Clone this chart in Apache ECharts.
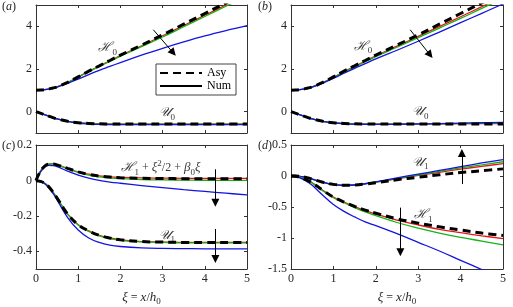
<!DOCTYPE html>
<html><head><meta charset="utf-8">
<script src="https://cdn.jsdelivr.net/npm/echarts@6/dist/echarts.min.js"></script>
<style>html,body{margin:0;padding:0;background:#fff}#c{width:513px;height:307px}</style>
</head><body><div id="c"></div>
<script>
// common abscissa xi = x/h0
const XI = [0,0.1,0.2,0.3,0.4,0.5,0.75,1,1.25,1.5,1.75,2,2.5,3,3.5,4,4.5,5];

// panel (a)
const A_H0_ASY = [1.00,1.01,1.03,1.06,1.11,1.16,1.37,1.63,1.90,2.15,2.40,2.65,3.12,3.60,4.10,4.60,5.10,5.60];
const A_H0_RED = [1.00,1.01,1.03,1.06,1.11,1.16,1.37,1.63,1.89,2.14,2.38,2.63,3.09,3.56,4.04,4.52,5.00,5.48];
const A_H0_GRN = [1.00,1.01,1.03,1.06,1.11,1.16,1.36,1.62,1.87,2.12,2.36,2.60,3.05,3.50,3.98,4.46,4.94,5.42];
const A_H0_BLU = [1.00,1.01,1.03,1.06,1.10,1.15,1.33,1.53,1.74,1.94,2.12,2.30,2.65,2.97,3.27,3.55,3.80,4.03];
const A_U0_ASY = [0,-0.07,-0.14,-0.21,-0.28,-0.34,-0.45,-0.52,-0.55,-0.57,-0.575,-0.58,-0.58,-0.58,-0.58,-0.58,-0.58,-0.58];
const A_U0_RED = [0,-0.07,-0.14,-0.21,-0.28,-0.34,-0.45,-0.52,-0.55,-0.57,-0.575,-0.58,-0.58,-0.58,-0.58,-0.58,-0.58,-0.58];
const A_U0_GRN = [0,-0.07,-0.14,-0.21,-0.28,-0.34,-0.45,-0.52,-0.56,-0.575,-0.585,-0.59,-0.59,-0.59,-0.59,-0.59,-0.59,-0.59];
const A_U0_BLU = [0,-0.07,-0.14,-0.21,-0.28,-0.34,-0.46,-0.54,-0.58,-0.60,-0.605,-0.61,-0.61,-0.61,-0.61,-0.61,-0.61,-0.61];

// panel (b)
const B_H0_ASY = [1.00,1.01,1.03,1.06,1.11,1.16,1.37,1.63,1.90,2.15,2.40,2.65,3.12,3.60,4.10,4.60,5.10,5.60];
const B_H0_RED = [1.00,1.01,1.03,1.06,1.11,1.16,1.36,1.61,1.87,2.12,2.37,2.62,3.07,3.53,3.99,4.45,4.92,5.40];
const B_H0_GRN = [1.00,1.01,1.03,1.06,1.11,1.16,1.36,1.60,1.85,2.10,2.34,2.58,3.02,3.47,3.92,4.37,4.84,5.30];
const B_H0_BLU = [1.00,1.01,1.03,1.06,1.10,1.15,1.34,1.56,1.80,2.03,2.25,2.47,2.88,3.30,3.73,4.17,4.61,5.05];
const B_U0_ASY = [0,-0.07,-0.14,-0.21,-0.28,-0.34,-0.45,-0.52,-0.55,-0.57,-0.575,-0.58,-0.58,-0.58,-0.58,-0.58,-0.58,-0.58];
const B_U0_RED = [0,-0.07,-0.14,-0.21,-0.28,-0.34,-0.45,-0.52,-0.55,-0.57,-0.575,-0.58,-0.58,-0.575,-0.57,-0.565,-0.56,-0.555];
const B_U0_GRN = [0,-0.07,-0.14,-0.21,-0.28,-0.34,-0.45,-0.52,-0.555,-0.575,-0.58,-0.585,-0.585,-0.58,-0.57,-0.56,-0.55,-0.54];
const B_U0_BLU = [0,-0.07,-0.14,-0.21,-0.28,-0.34,-0.46,-0.53,-0.57,-0.59,-0.60,-0.60,-0.59,-0.575,-0.56,-0.54,-0.52,-0.50];

// panel (c)
const C_H1_ASY = [0,0.05,0.08,0.092,0.093,0.088,0.068,0.048,0.034,0.025,0.019,0.015,0.012,0.011,0.010,0.010,0.010,0.010];
const C_H1_RED = [0,0.05,0.08,0.092,0.093,0.088,0.068,0.048,0.035,0.026,0.020,0.017,0.014,0.013,0.012,0.012,0.012,0.012];
const C_H1_GRN = [0,0.05,0.08,0.092,0.093,0.088,0.066,0.045,0.030,0.020,0.014,0.010,0.005,0.003,0.002,0.001,0.000,0.000];
const C_H1_BLU = [0,0.045,0.075,0.085,0.084,0.078,0.052,0.030,0.013,0.000,-0.009,-0.016,-0.029,-0.041,-0.052,-0.062,-0.072,-0.082];
const C_U1_ASY = [0,-0.005,-0.015,-0.035,-0.065,-0.10,-0.19,-0.25,-0.285,-0.31,-0.325,-0.335,-0.345,-0.348,-0.35,-0.35,-0.35,-0.35];
const C_U1_RED = [0,-0.005,-0.015,-0.035,-0.065,-0.10,-0.19,-0.25,-0.285,-0.31,-0.325,-0.335,-0.345,-0.348,-0.35,-0.35,-0.35,-0.35];
const C_U1_GRN = [0,-0.005,-0.015,-0.036,-0.067,-0.10,-0.19,-0.252,-0.288,-0.313,-0.328,-0.338,-0.347,-0.35,-0.352,-0.352,-0.352,-0.352];
const C_U1_BLU = [0,-0.005,-0.017,-0.040,-0.072,-0.11,-0.21,-0.28,-0.325,-0.35,-0.365,-0.373,-0.381,-0.384,-0.385,-0.386,-0.386,-0.386];

// panel (d)
const D_U1_ASY = [0,0,-0.005,-0.015,-0.03,-0.05,-0.10,-0.135,-0.148,-0.145,-0.13,-0.11,-0.06,-0.02,0.02,0.055,0.085,0.115];
const D_U1_RED = [0,0,-0.005,-0.015,-0.03,-0.05,-0.10,-0.137,-0.15,-0.145,-0.125,-0.10,-0.045,0.01,0.06,0.11,0.155,0.20];
const D_U1_GRN = [0,0,-0.005,-0.015,-0.03,-0.05,-0.10,-0.138,-0.151,-0.145,-0.123,-0.097,-0.04,0.02,0.075,0.13,0.18,0.23];
const D_U1_BLU = [0,0,-0.005,-0.015,-0.03,-0.05,-0.10,-0.14,-0.153,-0.145,-0.125,-0.095,-0.03,0.03,0.09,0.15,0.21,0.265];
const D_H1_ASY = [0,-0.005,-0.02,-0.045,-0.075,-0.11,-0.23,-0.34,-0.42,-0.49,-0.55,-0.60,-0.69,-0.76,-0.82,-0.87,-0.92,-0.96];
const D_H1_RED = [0,-0.005,-0.02,-0.045,-0.075,-0.11,-0.23,-0.34,-0.42,-0.495,-0.56,-0.615,-0.71,-0.79,-0.86,-0.915,-0.965,-1.01];
const D_H1_GRN = [0,-0.005,-0.02,-0.046,-0.077,-0.115,-0.24,-0.35,-0.43,-0.51,-0.58,-0.64,-0.75,-0.84,-0.92,-0.99,-1.05,-1.11];
const D_H1_BLU = [0,-0.005,-0.025,-0.06,-0.10,-0.15,-0.31,-0.46,-0.57,-0.66,-0.74,-0.80,-0.93,-1.07,-1.21,-1.36,-1.51,-1.66];

// y tick values
const A_YTICKS = [0,2,4];
const C_YTICKS = [-0.4,-0.2,0,0.2];
const D_YTICKS = [-1.5,-1,-0.5,0,0.5];

// annotations [x0,y0,x1,y1]
const ARROWS = [
  [0, [2.78,3.84,3.25,2.76]],
  [1, [2.81,3.84,3.28,2.66]],
  [2, [4.25,0.063,4.25,-0.126]],
  [2, [4.25,-0.274,4.25,-0.444]],
  [3, [4.03,-0.13,4.03,0.37]],
  [3, [2.58,-0.51,2.58,-1.23]]
];
const LABELS = [
  [0, 1.70, 3.0, '{s|ℋ}{b|0}'],
  [0, 3.10, -0.05, '{s|𝒰}{b|0}'],
  [1, 1.70, 3.05, '{s|ℋ}{b|0}'],
  [1, 3.05, -0.01, '{s|𝒰}{b|0}'],
  [2, 2.95, 0.07, '{s|ℋ}{b|1}{n| + }{i|ξ}{p|2}{n|/2 + }{i|β}{b|0}{i|ξ}'],
  [2, 3.10, -0.31, '{s|𝒰}{b|1}'],
  [3, 3.05, 0.22, '{s|𝒰}{b|1}'],
  [3, 3.12, -0.63, '{s|ℋ}{b|1}']
];

const RED = '#e8141c', GRN = '#14b414', BLU = '#1414e0';
const FONT = 'Liberation Serif, DejaVu Serif, serif';
const TXT = '#262626';

const grids = [
  {left:36, top:5, width:211, height:128},
  {left:291, top:5, width:212, height:128},
  {left:36, top:145, width:211, height:126},
  {left:291, top:145, width:212, height:126}
];
const yRanges = [[-1,5,A_YTICKS],[-1,5,A_YTICKS],[-0.5,0.2,C_YTICKS],[-1.5,0.5,D_YTICKS]];

const xAxis = [], yAxis = [];
for (let i = 0; i < 4; i++) {
  const bottomRow = i >= 2;
  xAxis.push({
    type:'value', gridIndex:i, min:0, max:5, interval:1, position:'bottom',
    axisLine:{show:true, onZero:false, lineStyle:{color:'#333', width:1}},
    axisTick:{show:true, inside:true, length:3, lineStyle:{color:'#333'}},
    axisLabel:{show:bottomRow, color:TXT, fontFamily:FONT, fontSize:12, margin:4},
    splitLine:{show:false},
    name: bottomRow ? '{i|ξ} = {i|x}/{i|h}{b|0}' : '',
    nameLocation:'middle', nameGap:21,
    nameTextStyle:{color:TXT, fontFamily:FONT, fontSize:12,
      rich:{i:{fontStyle:'italic', fontFamily:FONT, fontSize:13, color:TXT, lineHeight:16, verticalAlign:'middle'},
            b:{fontFamily:FONT, fontSize:9, color:TXT, lineHeight:16, verticalAlign:'bottom'}}}
  });
}
for (let i = 0; i < 4; i++) {
  xAxis.push({
    type:'value', gridIndex:i, min:0, max:5, interval:1, position:'top',
    axisLine:{show:true, onZero:false, lineStyle:{color:'#333', width:1}},
    axisTick:{show:true, inside:true, length:3, lineStyle:{color:'#333'}},
    axisLabel:{show:false}, splitLine:{show:false}
  });
}
for (let i = 0; i < 4; i++) {
  const r = yRanges[i];
  yAxis.push({
    type:'value', gridIndex:i, min:r[0], max:r[1], position:'left',
    axisLine:{show:true, onZero:false, lineStyle:{color:'#333', width:1}},
    axisTick:{show:true, inside:true, length:3, customValues:r[2], lineStyle:{color:'#333'}},
    axisLabel:{show:true, customValues:r[2], color:TXT, fontFamily:FONT, fontSize:12, margin:4,
      formatter: v => String(Math.round(v*10)/10)},
    splitLine:{show:false}
  });
}
for (let i = 0; i < 4; i++) {
  const r = yRanges[i];
  yAxis.push({
    type:'value', gridIndex:i, min:r[0], max:r[1], position:'right',
    axisLine:{show:true, onZero:false, lineStyle:{color:'#333', width:1}},
    axisTick:{show:true, inside:true, length:3, customValues:r[2], lineStyle:{color:'#333'}},
    axisLabel:{show:false}, splitLine:{show:false}
  });
}

const pairs = ys => XI.map((x, k) => [x, ys[k]]);
const series = [];
function addCurve(gi, ys, color, name, dashed) {
  series.push({
    type:'line', name:name, xAxisIndex:gi, yAxisIndex:gi, data:pairs(ys),
    smooth:0.4, showSymbol:false, symbol:'none', clip:true,
    lineStyle: dashed ? {color:'#000', width:3, type:[8,5]} : {color:color, width:1.3},
    itemStyle:{color: dashed ? '#000' : color},
    z: dashed ? 5 : 3, silent:true, animation:false
  });
}
const panels = [
  [[A_H0_RED,A_H0_GRN,A_H0_BLU,A_H0_ASY],[A_U0_RED,A_U0_GRN,A_U0_BLU,A_U0_ASY]],
  [[B_H0_RED,B_H0_GRN,B_H0_BLU,B_H0_ASY],[B_U0_RED,B_U0_GRN,B_U0_BLU,B_U0_ASY]],
  [[C_H1_RED,C_H1_GRN,C_H1_BLU,C_H1_ASY],[C_U1_RED,C_U1_GRN,C_U1_BLU,C_U1_ASY]],
  [[D_U1_RED,D_U1_GRN,D_U1_BLU,D_U1_ASY],[D_H1_RED,D_H1_GRN,D_H1_BLU,D_H1_ASY]]
];
panels.forEach((p, gi) => {
  p.forEach(set => {
    addCurve(gi, set[0], RED, 'r');
    addCurve(gi, set[1], GRN, 'g');
    addCurve(gi, set[2], BLU, 'b');
    addCurve(gi, set[3], '#000', 'Asy', true);
  });
});
// legend-only solid entry
series.push({type:'line', name:'Num', xAxisIndex:0, yAxisIndex:0, data:[], symbol:'none',
  lineStyle:{color:'#000', width:1.3}, itemStyle:{color:'#000'}});

// arrows
for (let gi = 0; gi < 4; gi++) {
  const arr = ARROWS.filter(a => a[0] === gi).map(a => ({coords:[[a[1][0],a[1][1]],[a[1][2],a[1][3]]]}));
  series.push({type:'lines', coordinateSystem:'cartesian2d', xAxisIndex:gi, yAxisIndex:gi,
    data:arr, symbol:['none','triangle'], symbolSize:[6,8], silent:true, z:6,
    lineStyle:{color:'#000', width:1, opacity:1, curveness:0}, itemStyle:{color:'#000'}});
}
// text labels
const richL = {
  s:{fontFamily:'DejaVu Serif, serif', fontStyle:'italic', fontSize:13, color:'#000', lineHeight:18, verticalAlign:'middle'},
  b:{fontFamily:FONT, fontSize:9, color:'#000', lineHeight:18, verticalAlign:'bottom'},
  p:{fontFamily:FONT, fontSize:9, color:'#000', lineHeight:18, verticalAlign:'top'},
  n:{fontFamily:FONT, fontSize:12, color:'#000', lineHeight:18, verticalAlign:'middle'},
  i:{fontFamily:FONT, fontStyle:'italic', fontSize:13, color:'#000', lineHeight:18, verticalAlign:'middle'}
};
for (let gi = 0; gi < 4; gi++) {
  series.push({type:'scatter', xAxisIndex:gi, yAxisIndex:gi, symbolSize:0, silent:true, z:7,
    data: LABELS.filter(l => l[0] === gi).map(l => [l[1], l[2], l[3]]),
    label:{show:true, position:'inside', formatter: p => p.data[2], rich:richL}});
}

const chart = echarts.init(document.getElementById('c'), null, {renderer:'canvas'});
chart.setOption({
  animation:false,
  backgroundColor:'#fff',
  grid: grids,
  xAxis: xAxis, yAxis: yAxis,
  legend: {data:['Asy','Num'], orient:'vertical', left:156, top:64, itemWidth:42, itemHeight:12, itemGap:1,
    backgroundColor:'#fff', borderColor:'#444', borderWidth:1, borderRadius:0, padding:[3,5,3,3],
    itemStyle:{opacity:0, borderWidth:0},
    textStyle:{fontFamily:FONT, fontSize:12, color:'#000'}, selectedMode:false},
  graphic: [
    {type:'text', left:2, top:1, style:{text:'({i|a})', font:'12px '+FONT, fill:TXT, rich:{i:{fontStyle:'italic', fontFamily:FONT, fontSize:12}}}},
    {type:'text', left:258, top:1, style:{text:'({i|b})', font:'12px '+FONT, fill:TXT, rich:{i:{fontStyle:'italic', fontFamily:FONT, fontSize:12}}}},
    {type:'text', left:2, top:140, style:{text:'({i|c})', font:'12px '+FONT, fill:TXT, rich:{i:{fontStyle:'italic', fontFamily:FONT, fontSize:12}}}},
    {type:'text', left:258, top:140, style:{text:'({i|d})', font:'12px '+FONT, fill:TXT, rich:{i:{fontStyle:'italic', fontFamily:FONT, fontSize:12}}}}
  ],
  series: series
});
</script></body></html>
